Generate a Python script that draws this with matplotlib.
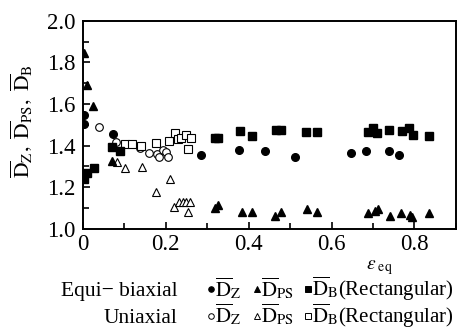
import numpy as np
import matplotlib
matplotlib.use('Agg')
import matplotlib.pyplot as plt
from matplotlib.ticker import MultipleLocator

plt.rcParams['font.family'] = ['Liberation Serif', 'DejaVu Serif']
plt.rcParams['mathtext.fontset'] = 'stix'

# equi-biaxial (filled markers)
eb_dz_x = [0.003, 0.003, 0.072, 0.285, 0.377, 0.440, 0.512, 0.647, 0.683, 0.739, 0.763]
eb_dz_y = [1.546, 1.503, 1.455, 1.353, 1.380, 1.373, 1.343, 1.364, 1.375, 1.375, 1.356]

eb_dps_x = [0.003, 0.010, 0.026, 0.071, 0.318, 0.326, 0.383, 0.409, 0.463, 0.477,
            0.540, 0.566, 0.688, 0.705, 0.711, 0.741, 0.767, 0.789, 0.795, 0.836]
eb_dps_y = [1.843, 1.690, 1.590, 1.324, 1.098, 1.114, 1.080, 1.080, 1.061, 1.080,
            1.093, 1.080, 1.074, 1.087, 1.093, 1.061, 1.074, 1.067, 1.058, 1.074]

eb_db_x = [0.003, 0.011, 0.027, 0.070, 0.090, 0.318, 0.326, 0.380, 0.409, 0.465, 0.477,
           0.539, 0.565, 0.688, 0.699, 0.709, 0.738, 0.769, 0.788, 0.796, 0.836]
eb_db_y = [1.240, 1.266, 1.290, 1.394, 1.373, 1.436, 1.436, 1.470, 1.446, 1.476, 1.476,
           1.465, 1.465, 1.465, 1.486, 1.458, 1.476, 1.470, 1.486, 1.450, 1.447]

# uniaxial (open markers)
ua_dz_x = [0.039, 0.080, 0.115, 0.138, 0.160, 0.178, 0.184, 0.194, 0.202, 0.206]
ua_dz_y = [1.490, 1.418, 1.407, 1.386, 1.365, 1.359, 1.346, 1.378, 1.367, 1.346]

ua_dps_x = [0.083, 0.102, 0.142, 0.176, 0.210, 0.220, 0.232, 0.242, 0.250, 0.258, 0.255]
ua_dps_y = [1.320, 1.290, 1.298, 1.178, 1.237, 1.103, 1.128, 1.128, 1.128, 1.128, 1.079]

ua_db_x = [0.102, 0.120, 0.140, 0.176, 0.208, 0.222, 0.230, 0.238, 0.249, 0.260, 0.254]
ua_db_y = [1.407, 1.407, 1.399, 1.413, 1.421, 1.462, 1.430, 1.435, 1.450, 1.435, 1.382]

fig = plt.figure(figsize=(4.71, 3.36), dpi=100)
ax = fig.add_axes([0.1756, 0.3193, 0.7924, 0.6190])

ms = 5.5
ax.plot(ua_dz_x, ua_dz_y, 'o', mfc='white', mec='black', mew=0.8, ms=ms, ls='none')
ax.plot(ua_dps_x, ua_dps_y, '^', mfc='white', mec='black', mew=0.8, ms=ms, ls='none')
ax.plot(ua_db_x, ua_db_y, 's', mfc='white', mec='black', mew=0.8, ms=6, ls='none')
ax.plot(eb_dz_x, eb_dz_y, 'o', color='black', ms=ms, ls='none')
ax.plot(eb_dps_x, eb_dps_y, '^', color='black', ms=ms, ls='none')
ax.plot(eb_db_x, eb_db_y, 's', color='black', ms=6, ls='none')

ax.set_xlim(0, 0.9)
ax.set_ylim(1.0, 2.0)
ax.set_xticks([0, 0.2, 0.4, 0.6, 0.8])
ax.set_xticklabels(['0', '0.2', '0.4', '0.6', '0.8'])
ax.set_yticks([1.0, 1.2, 1.4, 1.6, 1.8, 2.0])
ax.xaxis.set_minor_locator(MultipleLocator(0.1))
ax.yaxis.set_minor_locator(MultipleLocator(0.1))
ax.tick_params(which='both', direction='in', labelsize=16.5, width=1.2)
ax.tick_params(which='major', length=5)
ax.tick_params(which='minor', length=4)
ax.tick_params(axis='y', pad=5)
for s in ax.spines.values():
    s.set_linewidth(1.4)

D = r'\overline{\mathrm{D}}'
fig.text(0.045, 0.64, r'$%s_{\mathrm{Z}},\ %s_{\mathrm{PS}},\ %s_{\mathrm{B}}$' % (D, D, D),
         rotation=90, ha='center', va='center', fontsize=15.5)
fig.text(0.805, 0.205, r'$\varepsilon_{\ \mathrm{eq}}$', ha='center', va='center', fontsize=14)

# legend block
rows = [(0.119, 'Equi\u2212 biaxial', 'black'), (0.040, 'Uniaxial', 'white')]
for yy, label, fc in rows:
    fig.text(0.377, yy, label, ha='right', va='baseline', fontsize=15.5)
    for xm, mk, txt in [(0.447, 'o', r'$%s_{\mathrm{Z}}$' % D),
                        (0.545, '^', r'$%s_{\mathrm{PS}}$' % D),
                        (0.653, 's', r'$%s_{\mathrm{B}}$(Rectangular)' % D)]:
        ax.plot([xm], [yy + 0.02], marker=mk, mfc=fc, mec='black', mew=0.7, ms=4,
                transform=fig.transFigure, clip_on=False, ls='none')
        fig.text(xm + 0.009, yy, txt, ha='left', va='baseline', fontsize=15)

fig.savefig('out.png', dpi=100)
